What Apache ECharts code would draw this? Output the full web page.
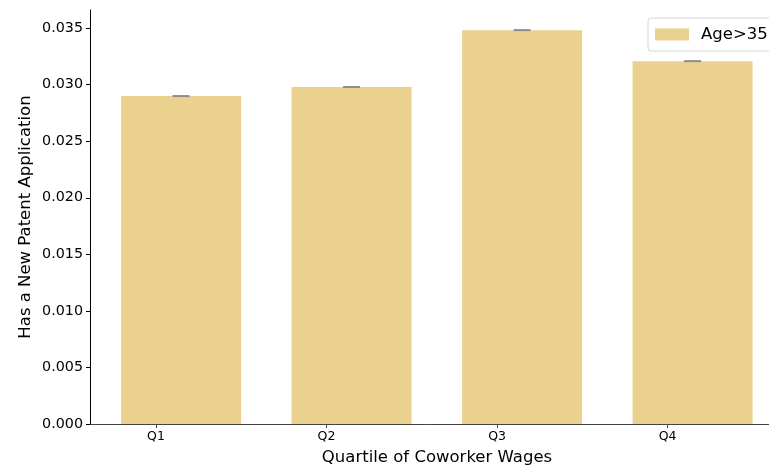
<!DOCTYPE html>
<html><head><meta charset="utf-8">
<script src="https://cdn.jsdelivr.net/npm/echarts@6/dist/echarts.min.js"></script>
<style>html,body{margin:0;padding:0;background:#fff}#c{width:769px;height:466px}</style>
</head><body><div id="c"></div>
<script>
const categories = ['Q1', 'Q2', 'Q3', 'Q4'];
const values = [0.02899, 0.02979, 0.03482, 0.03208];
const yTicks = [0, 0.005, 0.010, 0.015, 0.020, 0.025, 0.030, 0.035];
const seriesName = 'Age>35';
const barOffset = 0.147; // bars sit to the right of the category tick (grouped-bar slot)

const chart = echarts.init(document.getElementById('c'), null, {renderer: 'canvas'});
const font = 'DejaVu Sans';
const catPos = categories.map((c, i) => i);
chart.setOption({
  animation: false,
  textStyle: {fontFamily: font},
  grid: {left: 90, top: 10, width: 694, height: 414, containLabel: false, outerBoundsMode: 'none'},
  legend: {
    show: true, left: 648, top: 18, orient: 'vertical',
    data: [{name: seriesName, icon: 'rect'}],
    itemWidth: 34, itemHeight: 12, itemGap: 0,
    padding: [8, 7, 8, 7],
    borderColor: '#d6d6d6', borderWidth: 1, borderRadius: 3,
    textStyle: {fontFamily: font, fontSize: 16.5, color: '#000', padding: [0, 0, 0, 7]}
  },
  xAxis: {
    type: 'value', min: -0.387, max: 3.683,
    name: 'Quartile of Coworker Wages', nameLocation: 'middle', nameGap: 25,
    nameMoveOverlap: false,
    nameTextStyle: {fontFamily: font, fontSize: 16.5, color: '#000'},
    axisLine: {show: true, onZero: false, lineStyle: {color: '#444', width: 1}},
    axisTick: {show: true, customValues: catPos, length: 4, lineStyle: {color: '#444'}},
    axisLabel: {show: true, customValues: catPos, fontSize: 12.5, color: '#000', margin: 6,
      formatter: v => categories[Math.round(v)] || ''},
    splitLine: {show: false}
  },
  yAxis: {
    type: 'value', min: 0, max: 0.0366,
    name: 'Has a New Patent Application', nameLocation: 'middle', nameGap: 56,
    nameMoveOverlap: false,
    nameTextStyle: {fontFamily: font, fontSize: 16.5, color: '#000'},
    axisLine: {show: true, onZero: false, lineStyle: {color: '#000', width: 1}},
    axisTick: {show: true, customValues: yTicks, length: 4, lineStyle: {color: '#000'}},
    axisLabel: {show: true, customValues: yTicks, fontSize: 14.3, color: '#000', margin: 7,
      formatter: v => v.toFixed(3)},
    splitLine: {show: false}
  },
  series: [
    {
      name: seriesName, type: 'bar', barWidth: 120,
      itemStyle: {color: '#EAD18E'},
      data: values.map((v, i) => [i + barOffset, v]),
      z: 2
    },
    {
      name: 'err', type: 'scatter', symbol: 'rect', symbolSize: [17, 2],
      itemStyle: {color: '#8c8c8c', opacity: 1},
      data: values.map((v, i) => [i + barOffset, v]),
      z: 3, silent: true
    }
  ]
});
</script></body></html>
